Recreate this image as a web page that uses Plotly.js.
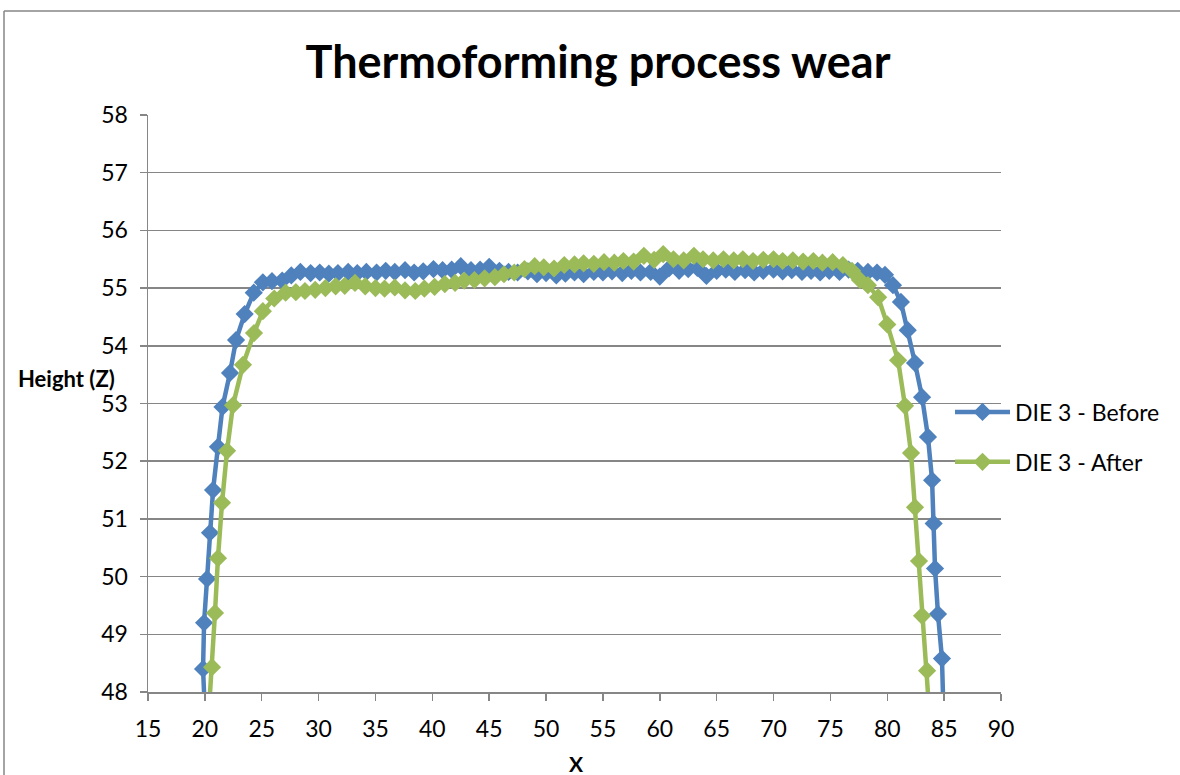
<!DOCTYPE html>
<html>
<head>
<meta charset="utf-8">
<script src="https://cdn.plot.ly/plotly-3.0.1.min.js"></script>
<style>
  html, body { margin: 0; padding: 0; background: #fff; }
  #chart { width: 1180px; height: 775px; }
</style>
</head>
<body>
<div id="chart"></div>
<script>
// Profile measurements of DIE 3, before and after the thermoforming run
const beforeX = [
  20.1, 19.84, 19.93, 20.19, 20.45, 20.72, 21.15, 21.55, 22.21, 22.74, 23.5, 24.3,
  25.1, 25.9, 26.8, 27.6, 28.4, 29.3, 30.1, 30.9, 31.7, 32.6, 33.4, 34.2,
  35.1, 35.9, 36.7, 37.6, 38.4, 39.2, 40.1, 40.9, 41.7, 42.5, 43.4, 44.2,
  45.0, 45.9, 46.7, 47.5, 48.4, 49.2, 50.0, 50.9, 51.7, 52.5, 53.3, 54.2,
  55.0, 55.8, 56.7, 57.5, 58.3, 59.2, 60.0, 60.8, 61.7, 62.5, 63.3, 64.1,
  65.0, 65.8, 66.6, 67.5, 68.3, 69.1, 70.0, 70.8, 71.6, 72.5, 73.3, 74.1,
  74.9, 75.8, 76.6, 77.4, 78.3, 79.1, 79.8, 80.5, 81.2, 81.8, 82.44, 83.06,
  83.58, 83.94, 84.08, 84.2, 84.46, 84.81, 84.95
];
const beforeZ = [
  47.2, 48.40, 49.20, 49.96, 50.76, 51.50, 52.25, 52.94, 53.53, 54.10, 54.55, 54.92,
  55.10, 55.12, 55.13, 55.22, 55.28, 55.26, 55.27, 55.25, 55.26, 55.28, 55.26, 55.28,
  55.27, 55.30, 55.28, 55.31, 55.27, 55.29, 55.33, 55.31, 55.32, 55.38, 55.31, 55.32,
  55.37, 55.30, 55.28, 55.27, 55.29, 55.24, 55.26, 55.22, 55.25, 55.27, 55.24, 55.28,
  55.27, 55.29, 55.26, 55.30, 55.27, 55.28, 55.20, 55.34, 55.30, 55.33, 55.35, 55.21,
  55.30, 55.32, 55.28, 55.31, 55.27, 55.30, 55.32, 55.29, 55.31, 55.28, 55.30, 55.27,
  55.30, 55.28, 55.32, 55.30, 55.28, 55.27, 55.23, 55.05, 54.76, 54.27, 53.70, 53.11,
  52.42, 51.67, 50.92, 50.14, 49.35, 48.58, 47.6
];

const afterX = [
  20.3, 20.63, 20.89, 21.15, 21.51, 21.95, 22.47, 23.35, 24.32, 25.1, 26.1,
  27.1, 28.0, 28.8, 29.7, 30.6, 31.5, 32.3, 33.2, 34.1, 35.0, 35.8, 36.7,
  37.6, 38.5, 39.3, 40.2, 41.1, 42.0, 42.8, 43.7, 44.6, 45.5, 46.3, 47.2,
  48.1, 49.0, 49.8, 50.7, 51.6, 52.5, 53.3, 54.2, 55.1, 56.0, 56.8, 57.7,
  58.6, 59.5, 60.3, 61.2, 62.1, 63.0, 63.8, 64.7, 65.6, 66.5, 67.3, 68.2,
  69.1, 70.0, 70.8, 71.7, 72.6, 73.5, 74.3, 75.2, 76.1, 76.9, 77.6, 78.3,
  79.2, 80.0, 80.95, 81.56, 82.09, 82.44, 82.79, 83.06, 83.5, 83.75
];
const afterZ = [
  47.5, 48.43, 49.37, 50.32, 51.28, 52.18, 52.97, 53.67, 54.22, 54.60, 54.82,
  54.92, 54.93, 54.95, 54.97, 55.00, 55.03, 55.04, 55.09, 55.03, 55.00, 54.99, 55.01,
  54.96, 54.95, 54.99, 55.02, 55.07, 55.09, 55.13, 55.14, 55.17, 55.19, 55.24, 55.27,
  55.33, 55.38, 55.36, 55.34, 55.40, 55.41, 55.43, 55.42, 55.45, 55.44, 55.47, 55.46,
  55.56, 55.49, 55.59, 55.50, 55.48, 55.56, 55.50, 55.48, 55.50, 55.48, 55.50, 55.47,
  55.49, 55.50, 55.47, 55.48, 55.46, 55.47, 55.44, 55.45, 55.40, 55.30, 55.14, 55.05,
  54.84, 54.37, 53.75, 52.96, 52.14, 51.20, 50.27, 49.32, 48.37, 47.5
];

const xTicks = [15, 20, 25, 30, 35, 40, 45, 50, 55, 60, 65, 70, 75, 80, 85, 90];
const yTicks = [48, 49, 50, 51, 52, 53, 54, 55, 56, 57, 58];

const seriesNames = ['DIE 3 - Before', 'DIE 3 - After'];
const seriesColors = ['#4F81BD', '#9BBB59'];

const FONT = 'Lato, "Open Sans", sans-serif';
const GRID = '#868686';

function series(x, y, name, color) {
  return {
    type: 'scatter', mode: 'lines+markers', x: x, y: y, name: name,
    legendgroup: name,
    line: { color: color, width: 4.5 },
    marker: { symbol: 'diamond', size: 14, color: color }
  };
}

const data = [
  series(beforeX, beforeZ, seriesNames[0], seriesColors[0]),
  series(afterX, afterZ, seriesNames[1], seriesColors[1])
];

// Outer chart frame in paper coordinates
const L = 148, R = 1001, T = 115, B = 692;
const px = v => (v - L) / (R - L);
const py = v => (B - v) / (B - T);

const tickFont = { family: FONT, size: 23, color: '#000' };

const layout = {
  width: 1180, height: 775,
  margin: { l: L, r: 1180 - R, t: T, b: 775 - B },
  paper_bgcolor: '#ffffff', plot_bgcolor: '#ffffff',
  font: { family: FONT, size: 23, color: '#000' },
  title: {
    text: '<b>Thermoforming process wear</b>',
    font: { family: FONT, size: 45, color: '#000' },
    x: 598 / 1180, xanchor: 'center', y: 1 - 62 / 775, yanchor: 'middle'
  },
  xaxis: {
    range: [15, 90], tickvals: xTicks, ticktext: xTicks.map(String),
    showgrid: false, zeroline: false,
    showline: true, linecolor: GRID, linewidth: 1.5,
    ticks: 'outside', ticklen: 7, tickcolor: GRID, tickwidth: 1.5,
    ticklabelstandoff: 9,
    tickfont: tickFont
  },
  yaxis: {
    range: [48, 58], tickvals: yTicks, ticktext: yTicks.map(String),
    showgrid: true, gridcolor: GRID, gridwidth: 1.5, zeroline: false,
    showline: true, linecolor: GRID, linewidth: 1.5,
    ticks: 'outside', ticklen: 7, tickcolor: GRID, tickwidth: 1.5,
    ticklabelstandoff: 7,
    tickfont: tickFont
  },
  showlegend: true,
  legend: {
    x: px(950), y: py(437), xanchor: 'left', yanchor: 'middle',
    bgcolor: 'rgba(0,0,0,0)', borderwidth: 0,
    font: { family: FONT, size: 23, color: '#000' },
    itemwidth: 55, traceorder: 'grouped', tracegroupgap: 17
  },
  annotations: [
    { text: '<b>X</b>', xref: 'paper', yref: 'paper', x: px(576), y: py(763),
      xanchor: 'center', yanchor: 'middle', showarrow: false,
      font: { family: FONT, size: 21, color: '#000' } },
    { text: '<b>Height (Z)</b>', xref: 'paper', yref: 'paper', x: px(16), y: py(378),
      xanchor: 'left', yanchor: 'middle', showarrow: false,
      font: { family: FONT, size: 22, color: '#000' } }
  ],
  shapes: [
    { type: 'line', xref: 'paper', yref: 'paper', x0: px(4), x1: px(1190), y0: py(11), y1: py(11),
      line: { color: GRID, width: 1.5 } },
    { type: 'line', xref: 'paper', yref: 'paper', x0: px(4), x1: px(4), y0: py(11), y1: py(790),
      line: { color: GRID, width: 1.5 } }
  ]
};

Plotly.newPlot('chart', data, layout, { displayModeBar: false, staticPlot: true });
</script>
</body>
</html>
